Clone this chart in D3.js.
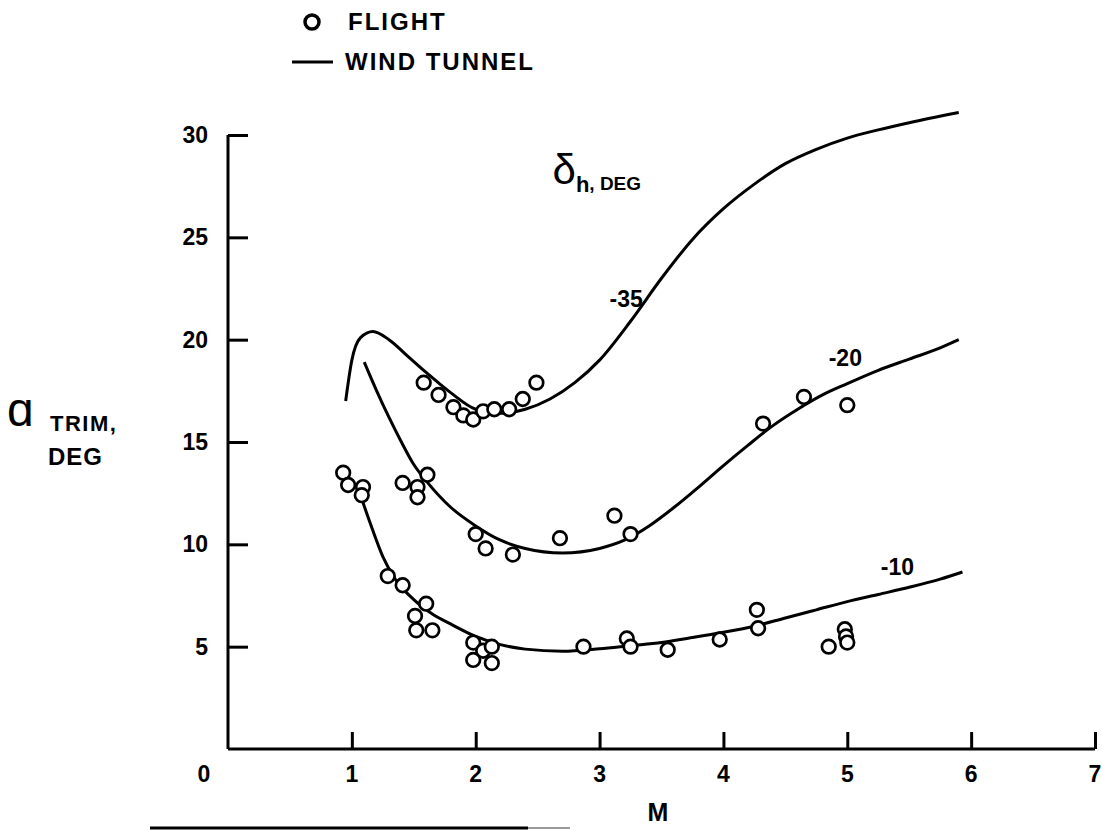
<!DOCTYPE html>
<html>
<head>
<meta charset="utf-8">
<script src="https://cdn.jsdelivr.net/npm/d3@7/dist/d3.min.js"></script>
<style>
  body { margin: 0; background: #fff; }
  svg text { font-family: "Liberation Sans", Arial, sans-serif; font-weight: bold; fill: #000; }
</style>
</head>
<body>
<svg id="chart" width="1102" height="831"></svg>
<script>
// --- tick labels ---
const xTicks = [1, 2, 3, 4, 5, 6, 7];
const yTicks = [5, 10, 15, 20, 25, 30];

// --- wind tunnel curves (M, alpha trim) ---
const tunnel35 = [[0.95,17.0],[1.0,19.0],[1.07,20.1],[1.17,20.4],[1.3,20.0],[1.45,19.2],[1.6,18.4],[1.8,17.4],[2.0,16.6],[2.2,16.4],[2.4,16.6],[2.6,17.1],[2.8,17.9],[3.0,19.0],[3.25,20.9],[3.5,23.0],[3.75,24.9],[4.0,26.4],[4.25,27.6],[4.5,28.6],[4.75,29.3],[5.0,29.85],[5.25,30.25],[5.5,30.6],[5.9,31.1]];
const tunnel20 = [[1.1,18.9],[1.2,17.5],[1.3,16.2],[1.4,15.0],[1.5,13.9],[1.6,13.1],[1.8,11.8],[2.0,10.9],[2.2,10.2],[2.4,9.8],[2.7,9.58],[3.0,9.8],[3.2,10.2],[3.4,10.9],[3.6,11.8],[3.8,12.8],[4.0,13.85],[4.2,14.85],[4.4,15.8],[4.6,16.6],[4.8,17.3],[5.0,17.85],[5.25,18.5],[5.5,19.05],[5.75,19.6],[5.9,20.0]];
const tunnel10 = [[1.07,12.4],[1.15,11.0],[1.25,9.4],[1.35,8.3],[1.5,7.3],[1.65,6.6],[1.8,6.1],[2.0,5.5],[2.2,5.1],[2.4,4.88],[2.7,4.78],[3.0,4.9],[3.25,5.05],[3.5,5.2],[3.75,5.45],[4.0,5.7],[4.25,6.0],[4.5,6.4],[4.75,6.8],[5.0,7.2],[5.25,7.55],[5.5,7.9],[5.75,8.3],[5.93,8.65]];

// --- flight points (M, alpha trim) ---
const flight35 = [[1.58,17.9],[1.70,17.3],[1.82,16.7],[1.90,16.3],[1.98,16.1],[2.06,16.5],[2.15,16.6],[2.27,16.6],[2.38,17.1],[2.49,17.9]];
const flight20 = [[1.41,13.0],[1.61,13.4],[1.53,12.8],[1.53,12.3],[2.0,10.5],[2.08,9.8],[2.3,9.5],[2.68,10.3],[3.12,11.4],[3.25,10.5],[4.32,15.9],[4.65,17.2],[5.0,16.8]];
const flight10 = [[0.93,13.5],[0.97,12.9],[1.09,12.8],[1.08,12.4],[1.29,8.45],[1.41,8.0],[1.60,7.1],[1.51,6.5],[1.52,5.8],[1.65,5.8],[1.98,5.2],[1.98,4.35],[2.06,4.8],[2.13,5.0],[2.13,4.2],[2.87,5.0],[3.22,5.4],[3.25,5.0],[3.55,4.85],[3.97,5.35],[4.27,6.8],[4.28,5.9],[4.85,5.0],[4.98,5.85],[4.99,5.5],[5.0,5.2]];

// curve labels: text, M, alpha
const curveLabels = [["-35", 3.08, 22.0], ["-20", 4.85, 19.1], ["-10", 5.27, 8.9]];

const svg = d3.select("#chart");
const x = d3.scaleLinear().domain([0, 7]).range([228, 1095]);
const y = d3.scaleLinear().domain([0, 30]).range([749, 135]);

// axes (ticks point inward)
const xAxis = d3.axisTop(x).tickValues(xTicks).tickSize(17).tickFormat("");
const yAxis = d3.axisRight(y).tickValues(yTicks).tickSize(20).tickFormat("");

const gx = svg.append("g").attr("transform", `translate(0,${y(0)})`).call(xAxis);
const gy = svg.append("g").attr("transform", `translate(${x(0)},0)`).call(yAxis);
[gx, gy].forEach(g => {
  g.select(".domain").attr("stroke", "#000").attr("stroke-width", 3);
  g.selectAll(".tick line").attr("stroke", "#000").attr("stroke-width", 3);
});
gx.select(".domain").attr("d", `M${x(0)},0H${x(7)}`);
gy.select(".domain").attr("d", `M0,${y(30)}V${y(0)}`);

// tick labels
svg.append("g").selectAll("text").data(xTicks).join("text")
  .attr("x", d => x(d)).attr("y", y(0) + 33)
  .attr("text-anchor", "middle").style("font-size", "23px")
  .text(d => d);
svg.append("text").attr("x", x(0) - 24).attr("y", y(0) + 33)
  .attr("text-anchor", "middle").style("font-size", "23px").text("0");
svg.append("g").selectAll("text").data(yTicks).join("text")
  .attr("x", x(0) - 20).attr("y", d => y(d) + 8)
  .attr("text-anchor", "end").style("font-size", "23px")
  .text(d => d);

// axis titles
svg.append("text").attr("x", 658).attr("y", 821).attr("text-anchor", "middle")
  .style("font-size", "25px").text("M");
svg.append("text").attr("x", 7).attr("y", 426)
  .style("font-size", "48px").style("font-weight", "normal").text("ɑ");
svg.append("text").attr("x", 50).attr("y", 431).style("font-size", "22px")
  .style("letter-spacing", "1.5px").text("TRIM,");
svg.append("text").attr("x", 48).attr("y", 465).style("font-size", "24px")
  .style("letter-spacing", "1px").text("DEG");

// bottom rule under the figure
svg.append("line").attr("x1", 150).attr("x2", 528).attr("y1", 828).attr("y2", 828)
  .attr("stroke", "#000").attr("stroke-width", 3);
svg.append("line").attr("x1", 528).attr("x2", 570).attr("y1", 828).attr("y2", 828)
  .attr("stroke", "#999").attr("stroke-width", 2);

// legend
svg.append("circle").attr("cx", 312).attr("cy", 22).attr("r", 7)
  .attr("fill", "none").attr("stroke", "#000").attr("stroke-width", 3.5);
svg.append("text").attr("x", 348).attr("y", 30).style("font-size", "24px")
  .style("letter-spacing", "2px").text("FLIGHT");
svg.append("line").attr("x1", 292).attr("x2", 333).attr("y1", 62).attr("y2", 62)
  .attr("stroke", "#000").attr("stroke-width", 3);
svg.append("text").attr("x", 345).attr("y", 70).style("font-size", "24px")
  .style("letter-spacing", "2px").text("WIND TUNNEL");

// delta_h label
const dh = svg.append("text").attr("x", x(2.62)).attr("y", y(27.6));
dh.append("tspan").style("font-size", "42px").style("font-weight", "normal").text("δ");
dh.append("tspan").attr("dy", 8).style("font-size", "22px").text("h");
dh.append("tspan").attr("dy", -2).style("font-size", "19px").text(", DEG");

// wind tunnel lines
const line = d3.line().x(d => x(d[0])).y(d => y(d[1])).curve(d3.curveMonotoneX);
svg.append("g").selectAll("path").data([tunnel35, tunnel20, tunnel10]).join("path")
  .attr("d", line).attr("fill", "none").attr("stroke", "#000").attr("stroke-width", 3);

svg.append("g").selectAll("text").data(curveLabels).join("text")
  .attr("x", d => x(d[1])).attr("y", d => y(d[2]) + 8)
  .style("font-size", "23px").text(d => d[0]);

// flight points
svg.append("g").selectAll("circle").data([...flight35, ...flight20, ...flight10]).join("circle")
  .attr("cx", d => x(d[0])).attr("cy", d => y(d[1])).attr("r", 6.8)
  .attr("fill", "#fff").attr("stroke", "#000").attr("stroke-width", 2.7);
</script>
</body>
</html>
